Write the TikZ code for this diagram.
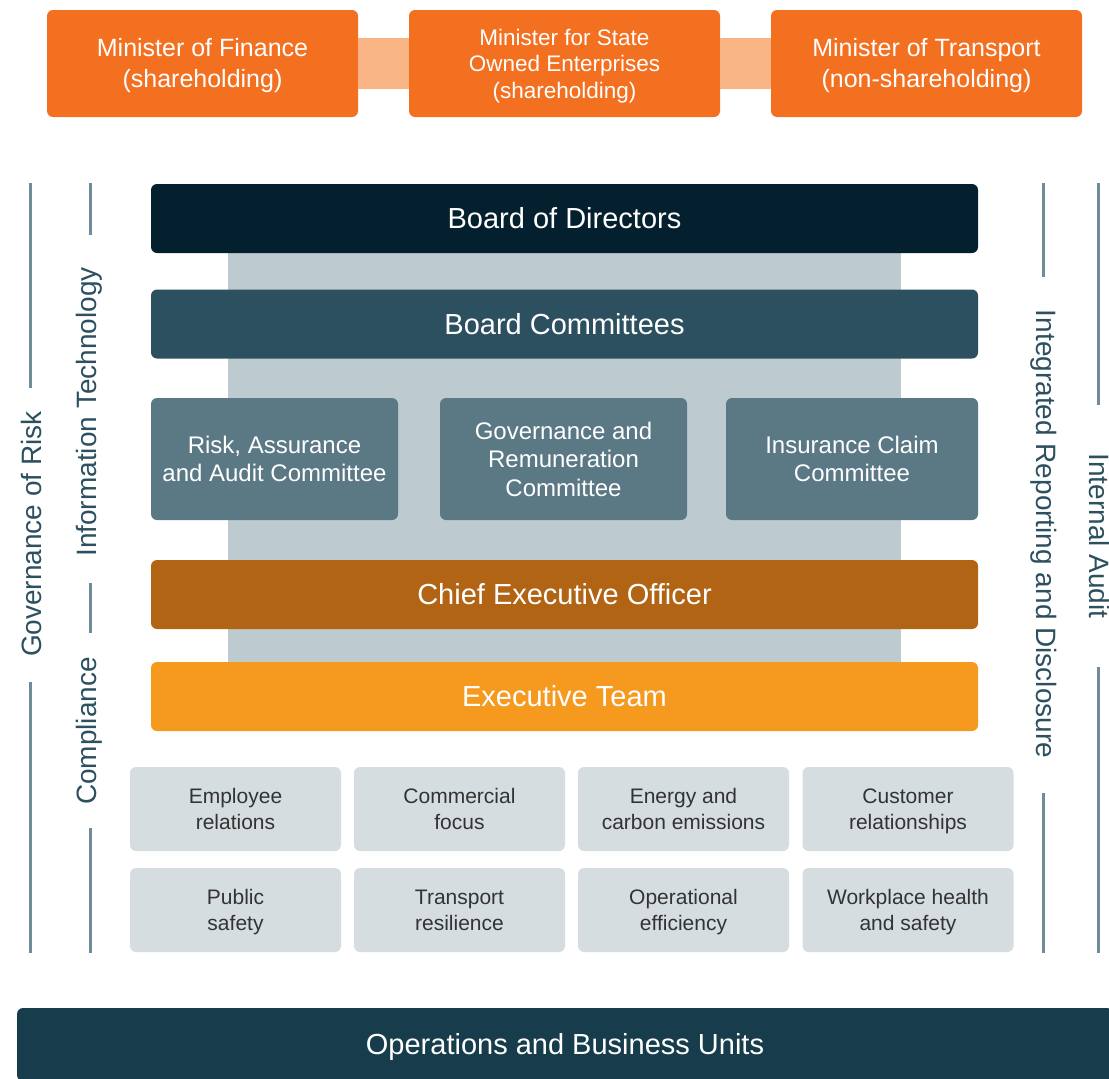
\documentclass[tikz,border=0pt]{standalone}
\usepackage{fontspec}
\setmainfont{Liberation Sans}
\definecolor{minorange}{HTML}{F37021}
\definecolor{bandorange}{HTML}{F8B485}
\definecolor{bodcol}{HTML}{04202E}
\definecolor{bccol}{HTML}{2D5060}
\definecolor{comcol}{HTML}{5B7885}
\definecolor{backcol}{HTML}{BDCACF}
\definecolor{ceocol}{HTML}{B26415}
\definecolor{execcol}{HTML}{F6991F}
\definecolor{gridcol}{HTML}{D6DDE0}
\definecolor{gridtext}{HTML}{333333}
\definecolor{opscol}{HTML}{173C4C}
\definecolor{sidecol}{HTML}{6F8C9B}
\definecolor{sidetext}{HTML}{2D5060}
\newcommand\mytopstrut{\rule{0pt}{0.936em}}
\newcommand\mybotstrut{\rule[-0.22em]{0pt}{0.22em}}
\begin{document}
\begin{tikzpicture}[x=1pt,y=-1pt,
  box/.style={rectangle, rounded corners=6pt, inner sep=0pt, text=white, align=center},
  minbox/.style={box, fill=minorange, minimum width=311pt, minimum height=107pt, font=\fontsize{25}{31}\selectfont},
  band/.style={line width=51pt, draw=bandorange},
  mainbox/.style={box, minimum width=827pt, minimum height=69pt, font=\fontsize{29}{34}\selectfont},
  combox/.style={box, fill=comcol, minimum height=122pt, font=\fontsize{24}{28.5}\selectfont},
  gridbox/.style={box, fill=gridcol, text=gridtext, minimum width=211pt, minimum height=84pt, font=\fontsize{21}{26}\selectfont},
  sidelabel/.style={inner sep=0pt, text=sidetext, font=\fontsize{28}{34}\selectfont},
  sideline/.style={draw=sidecol, line width=3pt}
]
\useasboundingbox (0,0) rectangle (1109,1079);
\clip (0,0) rectangle (1109,1079);

% ministers
\node[minbox] (fin) at (202.5,63.5) {\mytopstrut Minister of Finance\\(shareholding)\mybotstrut};
\node[minbox, font=\fontsize{22.5}{26.5}\selectfont] (soe) at (564.5,63.5) {\mytopstrut Minister for State\\Owned Enterprises\\(shareholding)\mybotstrut};
\node[minbox] (trn) at (926.5,63.5) {\mytopstrut Minister of Transport\\(non-shareholding)\mybotstrut};
\draw[band] (fin.east) -- (soe.west);
\draw[band] (soe.east) -- (trn.west);

% backdrop
\node[rectangle, fill=backcol, minimum width=673pt, minimum height=409pt, inner sep=0pt] (back) at (564.5,457.5) {};

% main stack
\node[mainbox, fill=bodcol] (bod) at (564.5,218.5) {\mytopstrut Board of Directors\mybotstrut};
\node[mainbox, fill=bccol] (bc) at (564.5,324) {\mytopstrut Board Committees\mybotstrut};
\node[combox, minimum width=247pt] (rac) at (274.5,459) {\mytopstrut Risk, Assurance\\and Audit Committee\mybotstrut};
\node[combox, minimum width=247pt] (grc) at (563.5,459) {\mytopstrut Governance and\\Remuneration\\Committee\mybotstrut};
\node[combox, minimum width=252pt] (icc) at (852,459) {\mytopstrut Insurance Claim\\Committee\mybotstrut};
\node[mainbox, fill=ceocol] (ceo) at (564.5,594.5) {\mytopstrut Chief Executive Officer\mybotstrut};
\node[mainbox, fill=execcol] (exec) at (564.5,696.5) {\mytopstrut Executive Team\mybotstrut};

% grid
\node[gridbox] (g11) at (235.5,809) {\mytopstrut Employee\\relations\mybotstrut};
\node[gridbox] (g12) at (459.5,809) {\mytopstrut Commercial\\focus\mybotstrut};
\node[gridbox] (g13) at (683.5,809) {\mytopstrut Energy and\\carbon emissions\mybotstrut};
\node[gridbox] (g14) at (908,809) {\mytopstrut Customer\\relationships\mybotstrut};
\node[gridbox] (g21) at (235.5,910) {\mytopstrut Public\\safety\mybotstrut};
\node[gridbox] (g22) at (459.5,910) {\mytopstrut Transport\\resilience\mybotstrut};
\node[gridbox] (g23) at (683.5,910) {\mytopstrut Operational\\efficiency\mybotstrut};
\node[gridbox] (g24) at (908,910) {\mytopstrut Workplace health\\and safety\mybotstrut};

% operations
\node[box, fill=opscol, minimum width=1096pt, minimum height=73pt, font=\fontsize{29}{34}\selectfont] (ops) at (565,1044.5) {\mytopstrut Operations and Business Units\mybotstrut};

% side labels
\node[sidelabel, rotate=90] (gov) at (31,534) {Governance of Risk};
\node[sidelabel, rotate=90] (it) at (89,412) {Information Technology};
\node[sidelabel, rotate=90] (comp) at (89,731) {Compliance};
\node[sidelabel, rotate=-90] (irt) at (1044,534) {Integrated Reporting and Disclosure};
\node[sidelabel, rotate=-90] (ia) at (1099,536) {Internal Audit};

% side lines
\coordinate (govA) at (30,183); \coordinate (govB) at (30,388);
\coordinate (govC) at (30,682); \coordinate (govD) at (30,953);
\coordinate (itA) at (90,183); \coordinate (itB) at (90,235);
\coordinate (itC) at (90,583); \coordinate (itD) at (90,633);
\coordinate (itE) at (90,828); \coordinate (itF) at (90,953);
\coordinate (irA) at (1043,183); \coordinate (irB) at (1043,277);
\coordinate (irC) at (1043,793); \coordinate (irD) at (1043,953);
\coordinate (iaA) at (1098,183); \coordinate (iaB) at (1098,405);
\coordinate (iaC) at (1098,667); \coordinate (iaD) at (1098,953);
\draw[sideline] (govA) -- (govB);
\draw[sideline] (govC) -- (govD);
\draw[sideline] (itA) -- (itB);
\draw[sideline] (itC) -- (itD);
\draw[sideline] (itE) -- (itF);
\draw[sideline] (irA) -- (irB);
\draw[sideline] (irC) -- (irD);
\draw[sideline] (iaA) -- (iaB);
\draw[sideline] (iaC) -- (iaD);
\end{tikzpicture}
\end{document}
